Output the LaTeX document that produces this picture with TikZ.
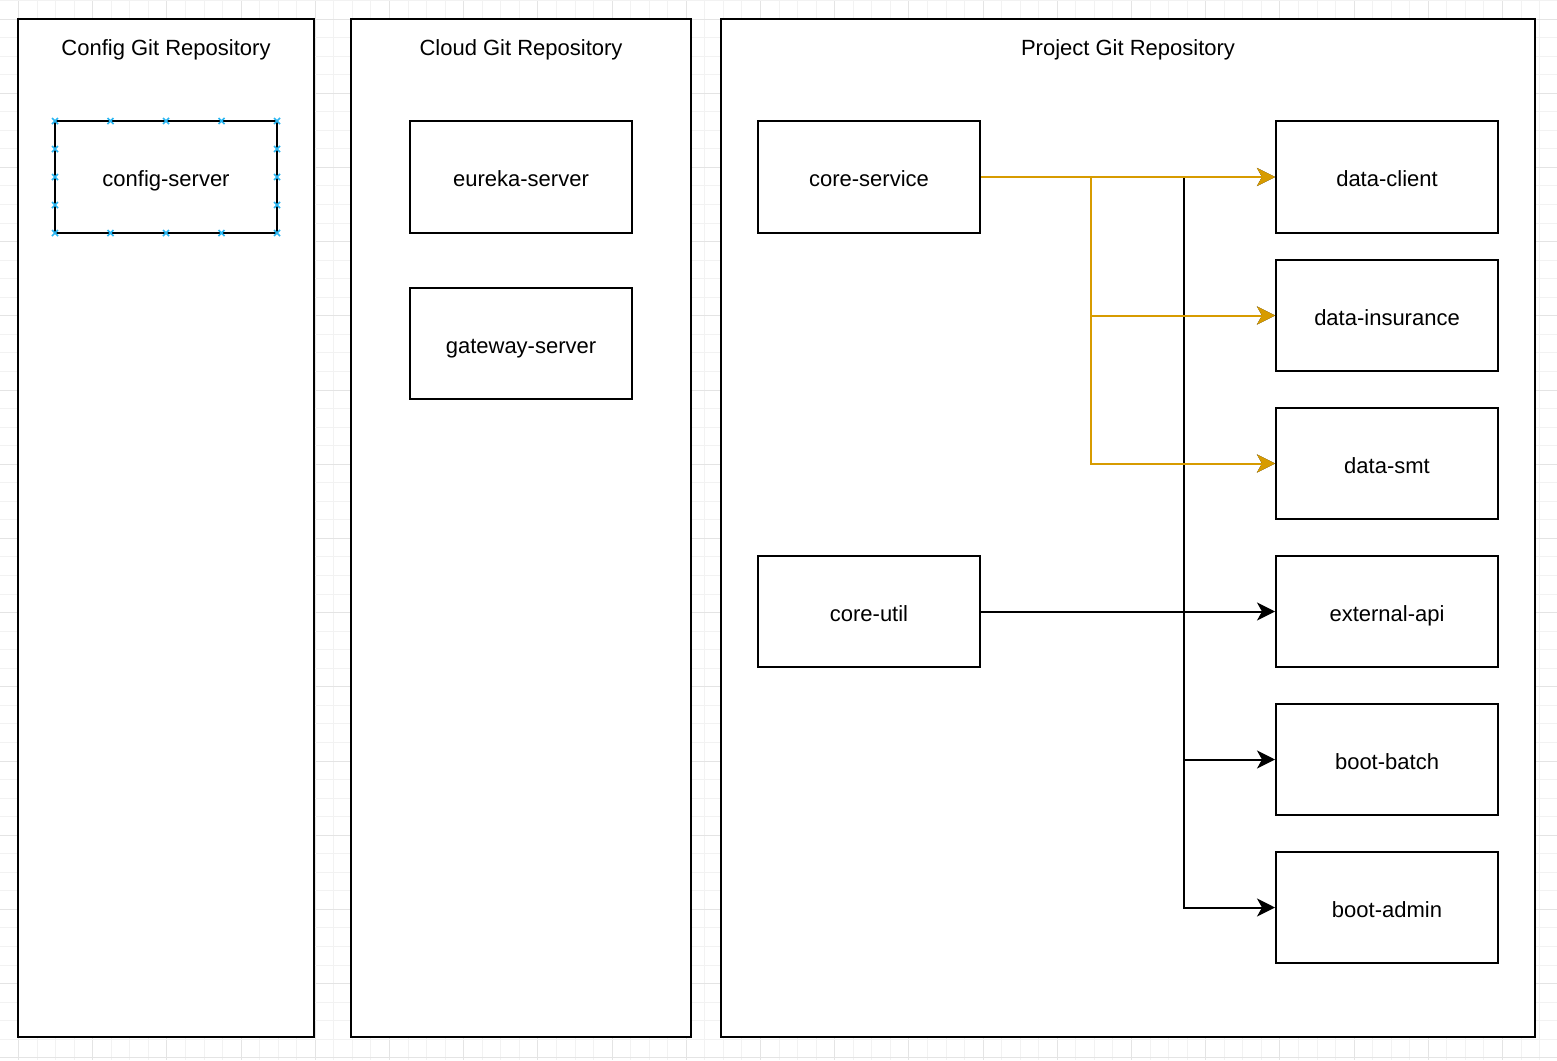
\documentclass[tikz,border=0pt]{standalone}
\usepackage{fontspec}
\setmainfont{Liberation Sans}
\usetikzlibrary{arrows.meta}
\definecolor{ylw}{HTML}{D79B00}
\definecolor{gridminor}{HTML}{F2F2F2}
\definecolor{gridmajor}{HTML}{E4E4E4}
\definecolor{handle}{HTML}{29B6F2}
\begin{document}
\begin{tikzpicture}[x=0.5pt,y=-0.5pt,
  container/.style={draw, fill=white, line width=1pt, inner sep=0pt},
  box/.style={draw, fill=white, line width=1pt, minimum width=111pt, minimum height=55.75pt, inner sep=0pt, text height=11pt, text depth=1.3pt, font=\fontsize{11}{13}\selectfont},
  title/.style={font=\fontsize{11}{13}\selectfont, inner sep=0pt, text height=10.5pt, text depth=1.3pt},
  link/.style={line width=1pt, -{Stealth[length=9pt,width=9pt,inset=2.5pt]}},
  ylink/.style={link, draw=ylw},
  blink/.style={link, draw=black},
  hmark/.style={draw=handle, line width=0.8pt}
]
\useasboundingbox[fill=white] (0,0) rectangle (1557,1060);
% background grid
\foreach \k in {-1,...,83} {
  \pgfmathsetmacro{\gx}{18.5+18.55*\k}
  \pgfmathtruncatemacro{\mj}{mod(\k+4,4)}
  \ifnum\mj=0
    \draw[gridmajor, line width=0.5pt] (\gx,0) -- (\gx,1060);
  \else
    \draw[gridminor, line width=0.5pt] (\gx,0) -- (\gx,1060);
  \fi
}
\foreach \k in {-1,...,57} {
  \pgfmathsetmacro{\gy}{19+18.55*\k}
  \pgfmathtruncatemacro{\mj}{mod(\k+4,4)}
  \ifnum\mj=0
    \draw[gridmajor, line width=0.5pt] (0,\gy) -- (1557,\gy);
  \else
    \draw[gridminor, line width=0.5pt] (0,\gy) -- (1557,\gy);
  \fi
}
% containers
\node[container, minimum width=148pt, minimum height=509pt] (cfg) at (166,528) {};
\node[container, minimum width=170pt, minimum height=509pt] (cld) at (521,528) {};
\node[container, minimum width=407pt, minimum height=509pt] (prj) at (1128,528) {};
\node[title] (tcfg) at (166,46) {Config Git Repository};
\node[title] (tcld) at (521,46) {Cloud Git Repository};
\node[title] (tprj) at (1128,46) {Project Git Repository};
% boxes
\node[box] (cs) at (166,177) {config-server};
\node[box] (eu) at (521,177) {eureka-server};
\node[box] (gw) at (521,343.5) {gateway-server};
\node[box] (core) at (869,177) {core-service};
\node[box] (cu) at (869,611.5) {core-util};
\node[box] (dc) at (1387,177) {data-client};
\node[box] (di) at (1387,315.5) {data-insurance};
\node[box] (ds) at (1387,463.5) {data-smt};
\node[box] (ea) at (1387,611.5) {external-api};
\node[box] (bb) at (1387,759.5) {boot-batch};
\node[box] (ba) at (1387,907.5) {boot-admin};
% selection handles on config-server
\foreach \hx in {55,110.5,166,221.5,277} {
  \foreach \hy in {121,233} {
    \draw[hmark] (\hx-3,\hy-3) -- (\hx+3,\hy+3) (\hx-3,\hy+3) -- (\hx+3,\hy-3);
  }
}
\foreach \hx in {55,277} {
  \foreach \hy in {149,177,205} {
    \draw[hmark] (\hx-3,\hy-3) -- (\hx+3,\hy+3) (\hx-3,\hy+3) -- (\hx+3,\hy-3);
  }
}
% black links from core-util
\foreach \t in {dc,di,ds,ea,bb,ba} {
  \draw[blink] (cu.east) -- ++(203,0) |- (\t.west);
}
% yellow links from core-service
\draw[ylink] (core.east) -- (dc.west);
\draw[ylink] (core.east) -- ++(110,0) |- (di.west);
\draw[ylink] (core.east) -- ++(110,0) |- (ds.west);
\end{tikzpicture}
\end{document}
